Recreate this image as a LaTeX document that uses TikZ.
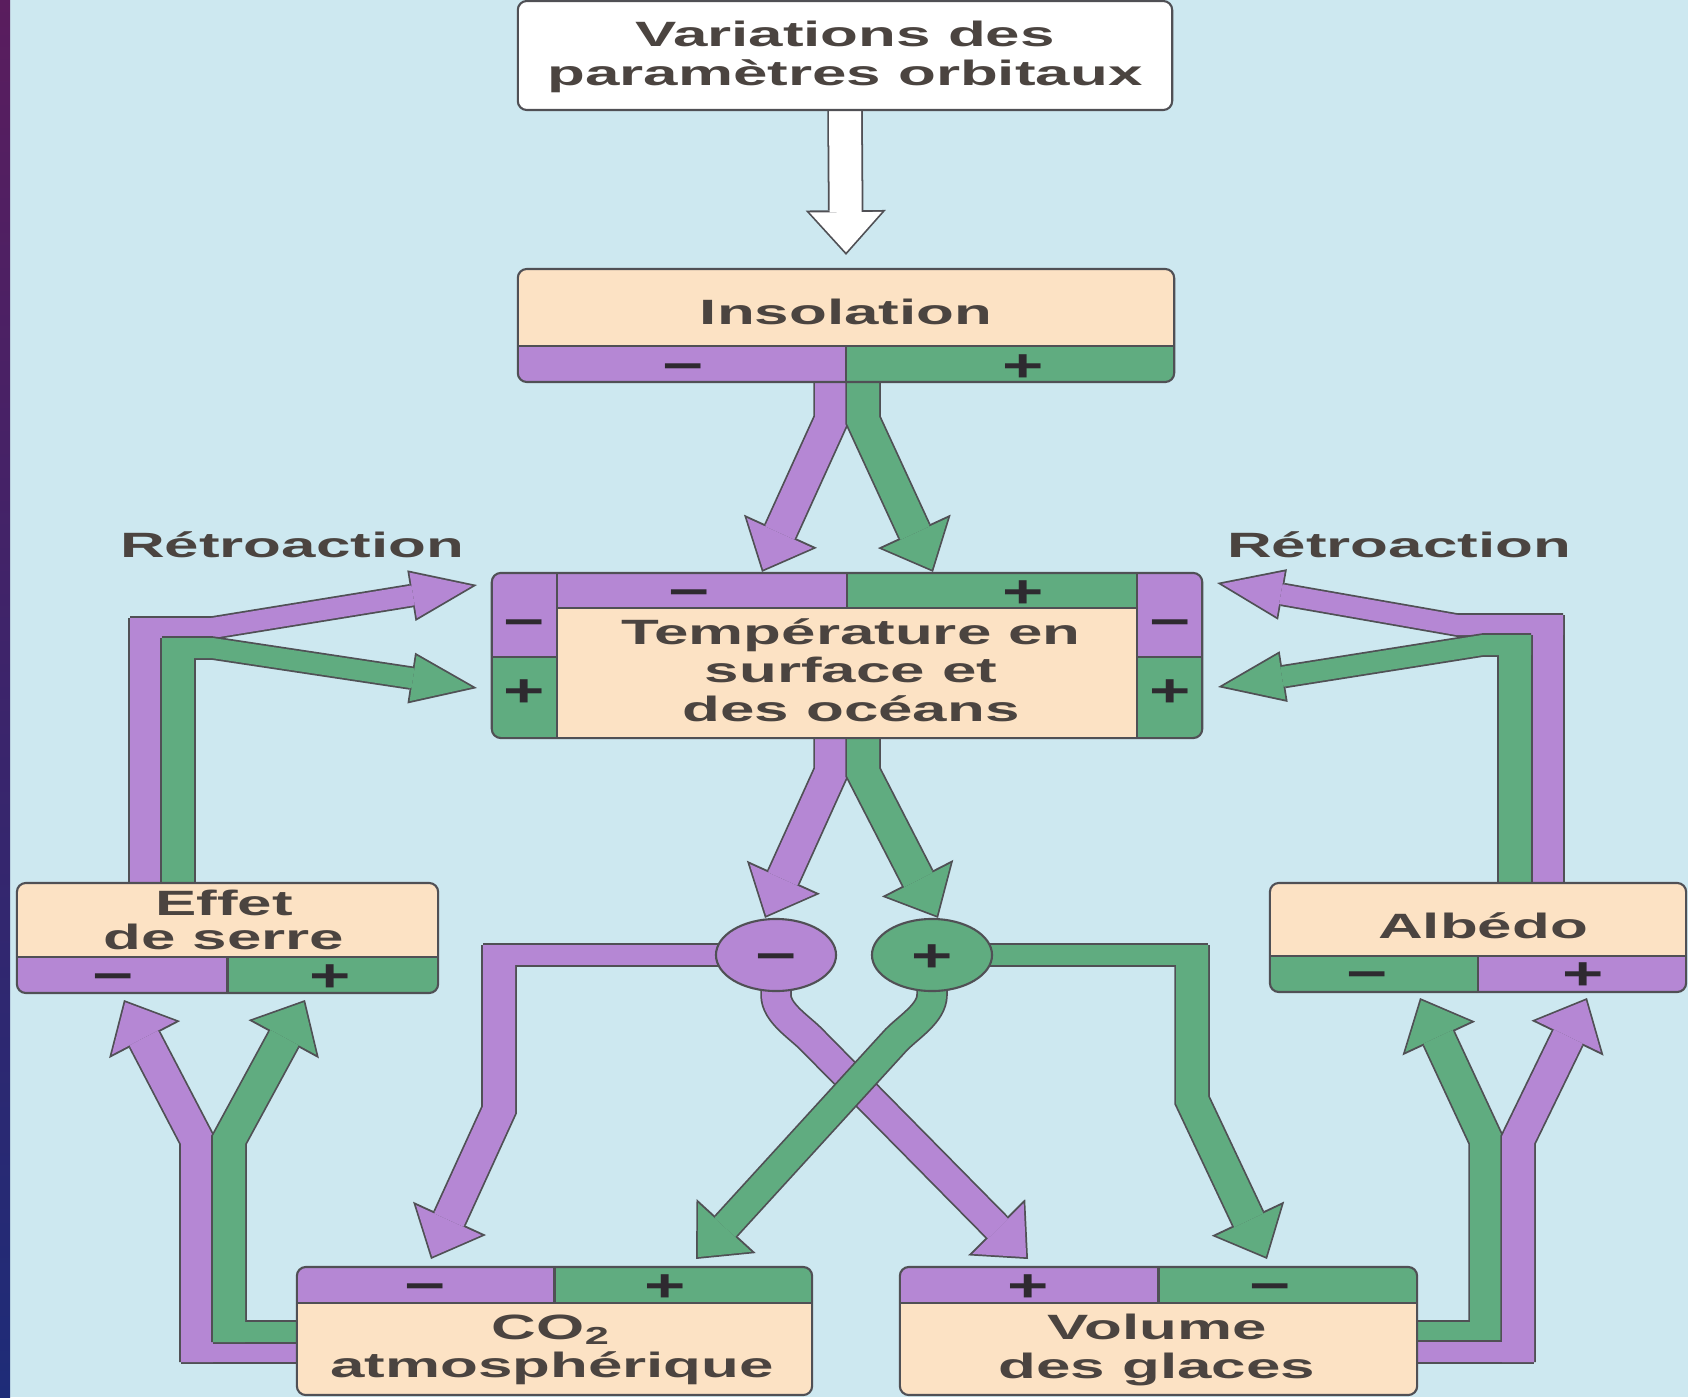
\documentclass[tikz,border=0pt]{standalone}
\usepackage{fontspec}
\setmainfont{Liberation Sans}
\usepackage{graphicx}
\usetikzlibrary{arrows.meta,shapes.geometric,calc}

\definecolor{bgc}{HTML}{CDE8F0}
\definecolor{purp}{HTML}{B587D4}
\definecolor{grn}{HTML}{60AC80}
\definecolor{peach}{HTML}{FCE2C4}
\definecolor{edge}{HTML}{505055}
\definecolor{ink}{HTML}{4B4440}
\definecolor{sgnc}{HTML}{2E2A30}
\definecolor{edgetop}{HTML}{5A1D5E}
\definecolor{edgebot}{HTML}{1E2C78}

% the scan is stretched sideways
\newcommand\st[1]{\scalebox{1.76}[1]{#1}}
\newcommand\sg[1]{\scalebox{1.55}[1]{#1}}

\pgfdeclarelayer{bg}
\pgfdeclarelayer{arrows}
\pgfsetlayers{bg,arrows,main}

\tikzset{
  box/.style={draw=edge, line width=0.6pt, fill=peach, rounded corners=0.09cm, inner sep=0pt},
  txt/.style={text=ink, font=\bfseries\fontsize{10}{11}\selectfont, align=center, inner sep=0pt},
  sgn/.style={text=sgnc, font=\bfseries\fontsize{13}{13}\selectfont, inner sep=0pt, text height=9.2pt, text depth=0pt},
  circ/.style={ellipse, draw=edge, line width=0.6pt, minimum width=1.2cm, minimum height=0.72cm},
  strip/.style n args={4}{path picture={
    \begin{scope}[sharp corners]
    \fill[#1] (path picture bounding box.#3 west) rectangle ([yshift=#4]path picture bounding box.#3);
    \fill[#2] (path picture bounding box.#3) rectangle ([yshift=#4]path picture bounding box.#3 east);
    \draw[edge] ([yshift=#4]path picture bounding box.#3 west) -- ([yshift=#4]path picture bounding box.#3 east)
      (path picture bounding box.#3) -- ([yshift=#4]path picture bounding box.#3);
    \end{scope}}},
  tstrip/.style={path picture={
    \begin{scope}[sharp corners]
    \fill[purp] (path picture bounding box.north west) rectangle ([xshift=0.65cm,yshift=-0.84cm]path picture bounding box.north west);
    \fill[grn] ([yshift=-0.84cm]path picture bounding box.north west) rectangle ([xshift=0.65cm]path picture bounding box.south west);
    \fill[purp] (path picture bounding box.north east) rectangle ([xshift=-0.65cm,yshift=-0.84cm]path picture bounding box.north east);
    \fill[grn] ([yshift=-0.84cm]path picture bounding box.north east) rectangle ([xshift=-0.65cm]path picture bounding box.south east);
    \fill[purp] ([xshift=0.65cm]path picture bounding box.north west) rectangle ([yshift=-0.35cm]path picture bounding box.north);
    \fill[grn] (path picture bounding box.north) rectangle ([xshift=-0.65cm,yshift=-0.35cm]path picture bounding box.north east);
    \draw[edge] ([xshift=0.65cm]path picture bounding box.north west) -- ([xshift=0.65cm]path picture bounding box.south west)
      ([xshift=-0.65cm]path picture bounding box.north east) -- ([xshift=-0.65cm]path picture bounding box.south east)
      ([xshift=0.65cm,yshift=-0.35cm]path picture bounding box.north west) -- ([xshift=-0.65cm,yshift=-0.35cm]path picture bounding box.north east)
      ([yshift=-0.84cm]path picture bounding box.north west) -- ++(65,0)
      ([yshift=-0.84cm]path picture bounding box.north east) -- ++(-65,0)
      (path picture bounding box.north) -- ([yshift=-0.35cm]path picture bounding box.north);
    \end{scope}}},
  % fat arrows: outline pass, then fill pass
  ol/.style 2 args={draw=edge, line width=#2*0.01cm+1pt},
  fl/.style 2 args={draw=#1, line width=#2*0.01cm},
  olbig/.style={-{Triangle[length=12.7pt, width=22.8pt, line width=0pt]}},
  flbig/.style={-{Triangle[length=11.4pt, width=20.5pt, line width=0pt]}, shorten >=0.75pt},
  olthin/.style={-{Triangle[length=18.9pt, width=14.6pt, line width=0pt]}},
  flthin/.style={-{Triangle[length=17pt, width=13.1pt, line width=0pt]}, shorten >=1.4pt}
}

\begin{document}
\begin{tikzpicture}[x=0.01cm, y=-0.01cm]
\useasboundingbox (0,0) rectangle (1688,1397);
\begin{pgfonlayer}{bg}
  \fill[bgc] (0,0) rectangle (1688,1397);
  \shade[top color=edgetop, bottom color=edgebot] (0,0) rectangle (10,1397);
\end{pgfonlayer}

% boxes
\node[box, fill=white, minimum width=6.54cm, minimum height=1.09cm] (var) at (845,55.5) {};
\node[box, strip={purp}{grn}{south}{0.36cm}, minimum width=6.56cm, minimum height=1.13cm] (ins) at (846,325.5) {};
\node[box, tstrip, minimum width=7.1cm, minimum height=1.65cm] (temp) at (847,655.5) {};
\node[box, strip={purp}{grn}{south}{0.36cm}, minimum width=4.21cm, minimum height=1.1cm] (effet) at (227.5,938) {};
\node[box, strip={grn}{purp}{south}{0.36cm}, minimum width=4.16cm, minimum height=1.09cm] (albedo) at (1478,937.5) {};
\node[box, strip={purp}{grn}{north}{-0.36cm}, minimum width=5.15cm, minimum height=1.28cm] (co2) at (554.5,1331) {};
\node[box, strip={purp}{grn}{north}{-0.36cm}, minimum width=5.17cm, minimum height=1.28cm] (vol) at (1158.5,1331) {};

% texts
\node[txt] (var-t) at (845,57) {\st{Variations des}\\\st{paramètres orbitaux}};
\node[txt] (ins-t) at (846,312) {\st{Insolation}};
\node[txt] (temp-t) at (851,670) {\st{Température en}\\\st{surface et}\\\st{des océans}};
\node[txt, font=\bfseries\fontsize{10}{9.6}\selectfont] (effet-t) at (224,920) {\st{Effet}\\\st{de serre}};
\node[txt] (albedo-t) at (1483,926) {\st{Albédo}};
\node[txt] (co2-t) at (552,1350) {\st{CO\textsubscript{2}}\\\st{atmosphérique}};
\node[txt] (vol-t) at (1157,1350) {\st{Volume}\\\st{des glaces}};
\node[txt] (retro-l) at (292,545) {\st{Rétroaction}};
\node[txt] (retro-r) at (1399,545) {\st{Rétroaction}};

% signs
\foreach \x/\y/\t [count=\i] in {683/365/−, 1023/365/+, 689/591/−, 1023/591/+,
    524/621/−, 524/690/+, 1170/621/−, 1170/690/+, 113/975/−, 330/975/+,
    1367/973/−, 1583/973/+, 425/1285/−, 665/1285/+, 1028/1285/+, 1270/1285/−}
  \node[sgn] (sg\i) at (\x,\y) {\sg{\t}};

% circles
\node[circ, sgn, fill=purp] (cm) at (776,955) {\sg{−}};
\node[circ, sgn, fill=grn] (cp) at (932,955) {\sg{+}};

\begin{pgfonlayer}{arrows}
% forcing
\foreach \s in {ol,fl}
  \draw[\s={white}{32}, \s big] (var.south) -- ($(ins.north)+(0,-13)$);
% insolation -> temperature
\foreach \s in {ol,fl}
  \draw[\s={purp}{32}, \s big] (831,0 |- ins.south) -- (831,420) -- (762,0 |- temp.north);
\foreach \s in {ol,fl}
  \draw[\s={grn}{32}, \s big] (863,0 |- ins.south) -- (863,420) -- (933,0 |- temp.north);
% temperature -> circles
\foreach \s in {ol,fl}
  \draw[\s={purp}{32}, \s big] (831,0 |- temp.south) -- (831,772) -- (765,0 |- cm.north);
\foreach \s in {ol,fl}
  \draw[\s={grn}{32}, \s big] (863,0 |- temp.south) -- (863,772) -- (938,0 |- cp.north);
% circles -> CO2 and ice
\foreach \s in {ol,fl} {
  \draw[\s={purp}{20}] (cm.center) -- (483,0 |- cm.center);
  \draw[\s={purp}{32}, \s big] (499,945) -- (499,1110) -- (431,1259);
}
\foreach \s in {ol,fl} {
  \draw[\s={grn}{20}] (cp.center) -- (1208,0 |- cp.center);
  \draw[\s={grn}{32}, \s big] (1192,945) -- (1192,1100) -- (1267,1259);
}
\foreach \s in {ol,fl}
  \draw[\s={purp}{28}, \s big] (cm.center) -- (776,995) to[out=-90,in=134,looseness=0.8] (812,1040) -- (1028,1259);
\foreach \s in {ol,fl}
  \draw[\s={grn}{28}, \s big] (cp.center) -- (932,995) to[out=-90,in=46,looseness=0.8] (896,1040) -- (696,1259);
% feedback, left
\foreach \s in {ol,fl} {
  \draw[\s={purp}{32}] (146,0 |- effet.north) -- (146,618);
  \draw[\s={purp}{20}, \s thin] (130,628) -- (212,628) -- (477,585);
}
\foreach \s in {ol,fl} {
  \draw[\s={grn}{32}] (178,0 |- effet.north) -- (178,638);
  \draw[\s={grn}{20}, \s thin] (162,648) -- (212,648) -- (477,688);
}
% feedback, right
\foreach \s in {ol,fl} {
  \draw[\s={purp}{32}] (1547,0 |- albedo.north) -- (1547,615);
  \draw[\s={purp}{20}, \s thin] (1563,625) -- (1457,625) -- (1217,583);
}
\foreach \s in {ol,fl} {
  \draw[\s={grn}{32}] (1515,0 |- albedo.north) -- (1515,635);
  \draw[\s={grn}{20}, \s thin] (1531,645) -- (1483,645) -- (1218,687);
}
% CO2 -> effet de serre
\foreach \s in {ol,fl} {
  \draw[\s={purp}{20}] (co2.west |- 0,1352) -- (181,1352);
  \draw[\s={purp}{32}, \s big] (197,1362) -- (197,1140) -- (124,1000);
}
\foreach \s in {ol,fl} {
  \draw[\s={grn}{20}] (co2.west |- 0,1332) -- (213,1332);
  \draw[\s={grn}{32}, \s big] (229,1342) -- (229,1140) -- (305,1000);
}
% ice -> albedo
\foreach \s in {ol,fl} {
  \draw[\s={grn}{20}] (vol.east |- 0,1332) -- (1502,1332);
  \draw[\s={grn}{32}, \s big] (1486,1342) -- (1486,1140) -- (1420,998);
}
\foreach \s in {ol,fl} {
  \draw[\s={purp}{20}] (vol.east |- 0,1352) -- (1534,1352);
  \draw[\s={purp}{32}, \s big] (1518,1362) -- (1518,1140) -- (1587,998);
}
\end{pgfonlayer}
\end{tikzpicture}
\end{document}
